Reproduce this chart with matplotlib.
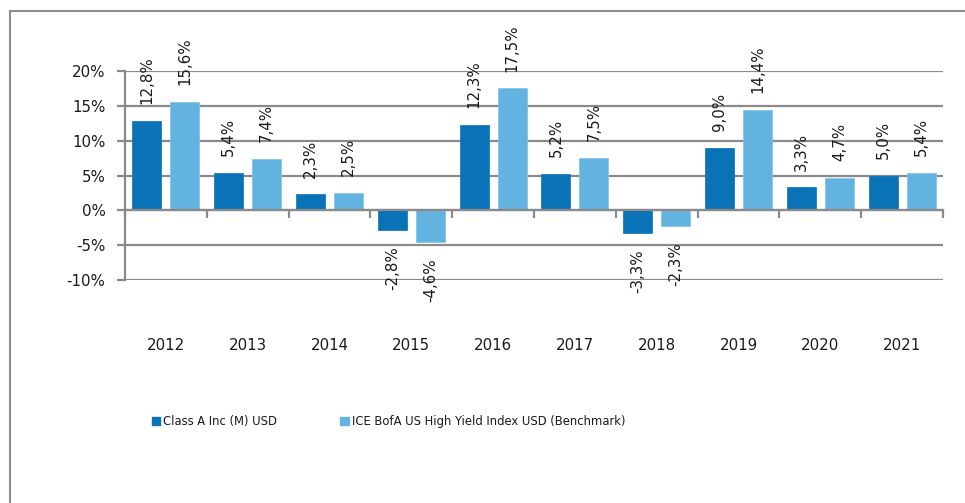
import matplotlib
matplotlib.use("Agg")
import matplotlib.pyplot as plt
from matplotlib.lines import Line2D
from matplotlib.patches import Patch
import numpy as np

years = ["2012", "2013", "2014", "2015", "2016", "2017", "2018", "2019", "2020", "2021"]
class_a = [12.8, 5.4, 2.3, -2.8, 12.3, 5.2, -3.3, 9.0, 3.3, 5.0]
benchmark = [15.6, 7.4, 2.5, -4.6, 17.5, 7.5, -2.3, 14.4, 4.7, 5.4]
series_names = ["Class A Inc (M) USD", "ICE BofA US High Yield Index USD (Benchmark)"]
yticks = [-10, -5, 0, 5, 10, 15, 20]

dark = "#0A73B7"
light = "#63B3E0"
grid_c = "#8A8A8A"
txt_c = "#1a1a1a"
fs = 10.8

plt.rcParams['font.family'] = ['DejaVu Sans']

fig = plt.figure(figsize=(9.65, 5.03), dpi=100)
W, H = 965, 503
ax = fig.add_axes([125 / W, 1 - 280 / H, (943 - 125) / W, (280 - 71) / H])

x = np.arange(len(years))
bw = 0.355
off = 0.2325
b1 = ax.bar(x - off, class_a, bw, color=dark, edgecolor=dark, linewidth=0.5, zorder=3)
b2 = ax.bar(x + off, benchmark, bw, color=light, edgecolor="#7cc2ea", linewidth=0.5, zorder=3)

def fmt(v):
    return f"{v:.1f}%".replace(".", ",")

for bars, vals in ((b1, class_a), (b2, benchmark)):
    for b, v in zip(bars, vals):
        cx = b.get_x() + b.get_width() / 2
        if v >= 0:
            ax.annotate(fmt(v), (cx, v), xytext=(0, 12), textcoords="offset points",
                        rotation=90, ha="center", va="bottom", fontsize=fs, color=txt_c,
                        annotation_clip=False)
        else:
            ax.annotate(fmt(v), (cx, v), xytext=(0, -11.5), textcoords="offset points",
                        rotation=90, ha="center", va="top", fontsize=fs, color=txt_c,
                        annotation_clip=False)

ax.set_xlim(-0.5, len(years) - 0.5)
ax.set_ylim(-10, 20)
ax.set_yticks(yticks)
ax.set_yticklabels([f"{t}%" for t in yticks], fontsize=fs, color=txt_c)
ax.yaxis.grid(True, color=grid_c, linewidth=1.6, zorder=1)
ax.set_axisbelow(True)

for s in ("top", "right"):
    ax.spines[s].set_visible(False)
ax.spines["left"].set_color(grid_c)
ax.spines["left"].set_linewidth(1.6)
ax.spines["bottom"].set_position(("data", 0))
ax.spines["bottom"].set_color(grid_c)
ax.spines["bottom"].set_linewidth(1.6)
ax.spines["bottom"].set_zorder(4)
ax.tick_params(axis="y", length=6, width=1.6, color=grid_c, pad=8)
ax.set_xticks(np.arange(-0.5, len(years) + 0.5, 1.0))
ax.set_xticklabels([])
ax.tick_params(axis="x", length=6, width=1.6, color=grid_c, direction="out")

for i, y in enumerate(years):
    ax.text(i, -(345 - 280) / (280 - 71), y, transform=ax.get_xaxis_transform(),
            ha="center", va="center", fontsize=fs, color=txt_c)

# legend
handles = [Patch(facecolor=dark, edgecolor=dark), Patch(facecolor=light, edgecolor=light)]
fig.legend(handles, series_names, loc="center left", bbox_to_anchor=(140 / W, 1 - 422 / H),
           ncol=2, frameon=False, handlelength=0.65, handleheight=0.65,
           handletextpad=0.25, columnspacing=4.9, labelcolor=txt_c,
           prop={"family": "DejaVu Sans", "stretch": "condensed", "size": 9.3})

# outer border
fig.add_artist(Line2D([9.5 / W, 9.5 / W], [0, 1 - 11 / H], color="#8C8C8C", linewidth=1.5))
fig.add_artist(Line2D([9.5 / W, 1], [1 - 11 / H, 1 - 11 / H], color="#8C8C8C", linewidth=1.5))

fig.savefig("out.png", dpi=100)
